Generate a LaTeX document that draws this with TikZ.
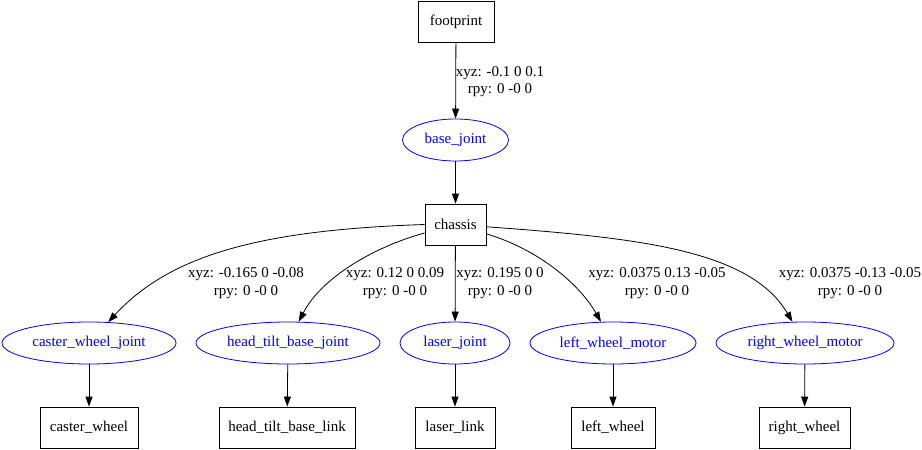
\documentclass[tikz,border=0pt]{standalone}
\usepackage{fontspec}
\setmainfont{Liberation Serif}
\usetikzlibrary{shapes.geometric,arrows.meta}
\definecolor{jointblue}{RGB}{0,0,255}
\begin{document}
\begin{tikzpicture}[x=1pt,y=-1pt,
  every node/.style={font=\fontsize{15}{17.5}\selectfont},
  link/.style={draw,thick,rectangle,minimum height=41pt,inner sep=0pt},
  joint/.style={draw=jointblue,text=jointblue,thick,ellipse,minimum height=42pt,inner sep=0pt},
  lbl/.style={align=center,inner sep=0pt},
  edge/.style={draw,thick,-{Triangle[length=10pt,width=7pt]}}]
\useasboundingbox (0,0) rectangle (922,450);
% links
\node[link,minimum width=76pt] (fp) at (456,22) {footprint};
\node[link,minimum width=61pt] (ch) at (455.5,224.5) {chassis};
\node[link,minimum width=98pt] (cw) at (89,427.5) {caster\_wheel};
\node[link,minimum width=136pt] (hl) at (287,427.5) {head\_tilt\_base\_link};
\node[link,minimum width=80pt] (ll) at (455,427.5) {laser\_link};
\node[link,minimum width=84pt] (lw) at (613,427.5) {left\_wheel};
\node[link,minimum width=91pt] (rw) at (804.5,427.5) {right\_wheel};
% joints
\node[joint,minimum width=106pt] (bj) at (455.5,140) {base\_joint};
\node[joint,minimum width=174pt] (cj) at (89,343) {caster\_wheel\_joint};
\node[joint,minimum width=184pt] (hj) at (288,343) {head\_tilt\_base\_joint};
\node[joint,minimum width=110pt] (lj) at (455,343) {laser\_joint};
\node[joint,minimum width=166pt] (lm) at (613,343) {left\_wheel\_motor};
\node[joint,minimum width=178pt] (rm) at (805,343) {right\_wheel\_motor};
% labels
\node[lbl] (l0) at (500,81.5) {xyz: -0.1 0 0.1\\rpy: 0 -0 0};
\node[lbl] (l1) at (246,283) {xyz: -0.165 0 -0.08\\rpy: 0 -0 0};
\node[lbl] (l2) at (395,283) {xyz: 0.12 0 0.09\\rpy: 0 -0 0};
\node[lbl] (l3) at (500,283) {xyz: 0.195 0 0\\rpy: 0 -0 0};
\node[lbl] (l4) at (657,283) {xyz: 0.0375 0.13 -0.05\\rpy: 0 -0 0};
\node[lbl] (l5) at (850,283) {xyz: 0.0375 -0.13 -0.05\\rpy: 0 -0 0};
% edges
\draw[edge] (fp) -- (bj);
\draw[edge] (bj) -- (ch);
\draw[edge] (ch.west) .. controls (260,230) and (170,255) .. (cj);
\draw[edge] (ch) .. controls (370,248) and (320,280) .. (hj);
\draw[edge] (ch) -- (lj);
\draw[edge] (ch) .. controls (540,250) and (580,285) .. (lm);
\draw[edge] (ch) .. controls (640,238) and (750,250) .. (rm);
\draw[edge] (cj) -- (cw);
\draw[edge] (hj) -- (hl);
\draw[edge] (lj) -- (ll);
\draw[edge] (lm) -- (lw);
\draw[edge] (rm) -- (rw);
\end{tikzpicture}
\end{document}
